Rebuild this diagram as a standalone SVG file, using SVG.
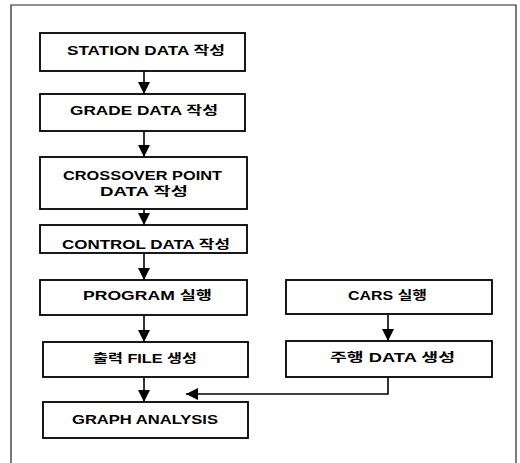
<svg xmlns="http://www.w3.org/2000/svg" width="520" height="463" viewBox="0 0 520 463">
  <style>
    .box { fill: #fff; stroke: #000; stroke-width: 1.8; }
    .lbl { font-family: "Liberation Sans", "Noto Sans CJK KR", sans-serif; font-size: 12px; font-weight: bold; fill: #000; text-anchor: middle; }
    .wire { fill: none; stroke: #000; stroke-width: 1.6; }
    .frame { fill: none; stroke: #222; stroke-width: 1.2; }
  </style>
  <defs>
    <marker id="head" markerUnits="userSpaceOnUse" markerWidth="14" markerHeight="12" refX="12" refY="6" orient="auto">
      <path d="M0,0 L12,6 L0,12 Z" fill="#000"/>
    </marker>
  </defs>

  <rect width="520" height="463" fill="#fff"/>
  <!-- outer frame, open at the bottom -->
  <path class="frame" d="M11,463 V5 H516 V463"/>

  <g id="connectors">
    <path class="wire" d="M144,71 V94" marker-end="url(#head)"/>
    <path class="wire" d="M144,131 V157" marker-end="url(#head)"/>
    <path class="wire" d="M144,209 V225" marker-end="url(#head)"/>
    <path class="wire" d="M144,253 V280" marker-end="url(#head)"/>
    <path class="wire" d="M144,315 V342" marker-end="url(#head)"/>
    <path class="wire" d="M144,377 V402" marker-end="url(#head)"/>
    <path class="wire" d="M388,314 V341" marker-end="url(#head)"/>
    <path class="wire" d="M388,377 V394 H186" marker-end="url(#head)"/>
  </g>

  <g id="station">
    <rect class="box" x="40" y="33" width="205" height="38"/>
    <text class="lbl" x="146" y="55" textLength="158" lengthAdjust="spacingAndGlyphs">STATION DATA 작성</text>
  </g>
  <g id="grade">
    <rect class="box" x="40" y="94" width="205" height="37"/>
    <text class="lbl" x="144" y="115" textLength="148" lengthAdjust="spacingAndGlyphs">GRADE DATA 작성</text>
  </g>
  <g id="crossover">
    <rect class="box" x="40" y="157" width="207" height="52"/>
    <text class="lbl" x="142.5" y="180" textLength="159" lengthAdjust="spacingAndGlyphs">CROSSOVER POINT</text>
    <text class="lbl" x="144" y="196" textLength="88" lengthAdjust="spacingAndGlyphs">DATA 작성</text>
  </g>
  <g id="control">
    <rect class="box" x="40" y="225" width="207" height="28"/>
    <text class="lbl" x="146" y="249" textLength="168" lengthAdjust="spacingAndGlyphs">CONTROL DATA 작성</text>
  </g>
  <g id="program">
    <rect class="box" x="40" y="280" width="207" height="35"/>
    <text class="lbl" x="147.5" y="300" textLength="129" lengthAdjust="spacingAndGlyphs">PROGRAM 실행</text>
  </g>
  <g id="output-file">
    <rect class="box" x="43" y="342" width="205" height="35"/>
    <text class="lbl" x="145" y="363" textLength="104" lengthAdjust="spacingAndGlyphs">출력 FILE 생성</text>
  </g>
  <g id="graph">
    <rect class="box" x="43" y="402" width="205" height="36"/>
    <text class="lbl" x="145" y="424" textLength="146" lengthAdjust="spacingAndGlyphs">GRAPH ANALYSIS</text>
  </g>
  <g id="cars">
    <rect class="box" x="286" y="280" width="206" height="34"/>
    <text class="lbl" x="387.5" y="300" textLength="79" lengthAdjust="spacingAndGlyphs">CARS 실행</text>
  </g>
  <g id="run-data">
    <rect class="box" x="286" y="341" width="206" height="36"/>
    <text class="lbl" x="392.5" y="362" textLength="125" lengthAdjust="spacingAndGlyphs">주행 DATA 생성</text>
  </g>
</svg>
